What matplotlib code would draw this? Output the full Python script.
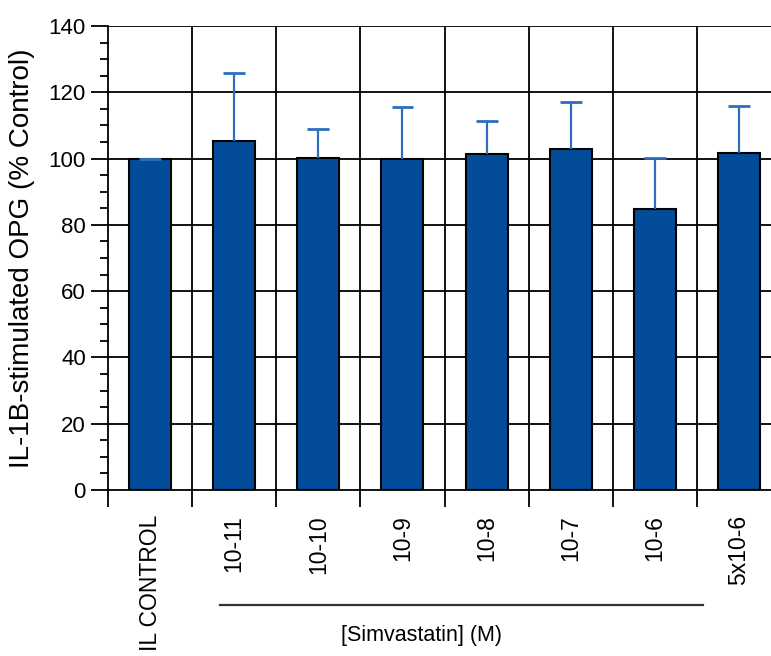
import numpy as np
import matplotlib
matplotlib.use('Agg')
import matplotlib.pyplot as plt
from matplotlib.transforms import blended_transform_factory

plt.rcParams['font.family'] = ['Liberation Sans', 'DejaVu Sans']

categories = ['IL CONTROL', '10-11', '10-10', '10-9', '10-8', '10-7', '10-6', '5x10-6']
values = [100.0, 105.4, 100.2, 100.0, 101.4, 102.9, 84.8, 101.8]
err_up = [0.0, 20.5, 8.8, 15.6, 9.9, 14.2, 15.4, 14.1]
group_label = '[Simvastatin] (M)'
ylabel = 'IL-1B-stimulated OPG (% Control)'

bar_color = '#024c9a'
err_color = '#2f6ebd'

fig = plt.figure(figsize=(7.71, 6.56), dpi=100)
ax = fig.add_axes([0.1401, 0.2530, 0.8729, 0.7073])

x = np.arange(len(categories))
tops = np.array(values) + np.array(err_up)

# grid behind bars
for yv in range(20, 141, 20):
    ax.axhline(yv, color='black', lw=1.3, zorder=0)
for xv in np.arange(0.5, len(categories), 1.0):
    ax.axvline(xv, color='black', lw=1.3, zorder=0)

ax.bar(x, values, width=0.5, color=bar_color, edgecolor='black', linewidth=1.5, zorder=2)

# upper error bars only (no cap at bar top)
ax.vlines(x, values, tops, color=err_color, lw=1.6, zorder=3)
ax.hlines(tops, x - 0.13, x + 0.13, color=err_color, lw=2.0, zorder=3)

ax.set_xlim(-0.5, len(categories) - 0.5)
ax.set_ylim(0, 140)

for s in ['top', 'right']:
    ax.spines[s].set_visible(False)
ax.spines['left'].set_linewidth(1.3)
ax.spines['bottom'].set_linewidth(1.3)

ax.set_yticks(np.arange(0, 141, 20))
ax.set_yticks(np.arange(0, 141, 5), minor=True)
ax.tick_params(axis='y', which='major', length=12, width=1.3, labelsize=16, pad=4)
ax.tick_params(axis='y', which='minor', length=6, width=1.3)

ax.set_xticks(np.arange(-0.5, len(categories), 1.0))
ax.set_xticklabels([])
ax.set_xticks(x, minor=True)
ax.set_xticklabels(categories, minor=True, rotation=90, fontsize=16.5, va='top')
ax.tick_params(axis='x', which='major', length=12, width=1.3)
ax.tick_params(axis='x', which='minor', length=0, pad=18)

ax.set_ylabel(ylabel, fontsize=20, labelpad=10)

# group bracket under the simvastatin doses
tr = blended_transform_factory(ax.transData, fig.transFigure)
ax.plot([0.83, 6.57], [0.0777, 0.0777], color='#333333', lw=1.6,
        transform=tr, clip_on=False)
ax.text(3.23, 0.031, group_label, transform=tr, ha='center', va='center', fontsize=15.5)

fig.savefig('out.png', dpi=100)
